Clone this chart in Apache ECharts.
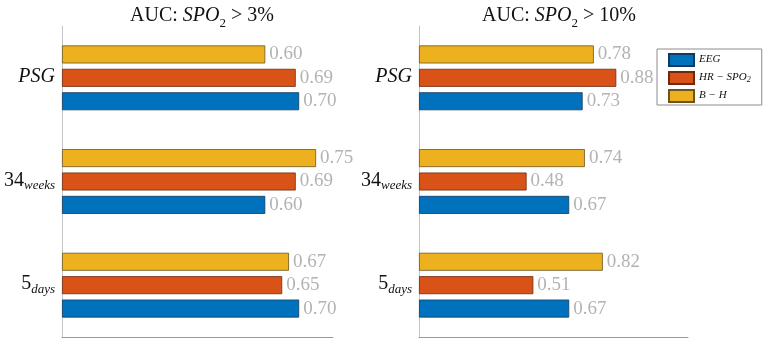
<!DOCTYPE html>
<html>
<head>
<meta charset="utf-8">
<script src="https://cdn.jsdelivr.net/npm/echarts@6/dist/echarts.min.js"></script>
<style>
  html, body { margin: 0; padding: 0; background: #fff; }
  #chart { width: 765px; height: 341px; }
</style>
</head>
<body>
<div id="chart"></div>
<script>
// categories listed bottom to top (ECharts category y axis grows upward)
const categories = ['5days', '34weeks', 'PSG'];
const seriesNames = ['EEG', 'HR-SPO2', 'B-H'];

// AUC: SPO2 > 3%
const eeg3 = [0.70, 0.60, 0.70];
const hr3 = [0.65, 0.69, 0.69];
const bh3 = [0.67, 0.75, 0.60];

// AUC: SPO2 > 10%
const eeg10 = [0.67, 0.67, 0.73];
const hr10 = [0.51, 0.48, 0.88];
const bh10 = [0.82, 0.74, 0.78];

const colors = ['#0072BD', '#D95319', '#EDB120'];
const borders = ['#123a5e', '#6e2a0c', '#6a5520'];
const serif = 'Liberation Serif';

const catLabel = {
    'PSG': '{it|PSG}',
    '34weeks': '{n|34}{sub|weeks}',
    '5days': '{n|5}{sub|days}'
};
const legendLabel = {
    'EEG': '{it|EEG}',
    'HR-SPO2': '{it|HR − SPO}{s|2}',
    'B-H': '{it|B − H}'
};

const titleRich = {
    n: { fontFamily: serif, fontSize: 20, fontWeight: 'normal', lineHeight: 24, verticalAlign: 'top', color: '#111' },
    it: { fontFamily: serif, fontSize: 20, fontWeight: 'normal', fontStyle: 'italic', lineHeight: 24, verticalAlign: 'top', color: '#111' },
    sub: { fontFamily: serif, fontSize: 13, fontWeight: 'normal', lineHeight: 14, verticalAlign: 'bottom', color: '#111' }
};

function makeBar(name, data, i, axis) {
    return {
        name: name,
        type: 'bar',
        xAxisIndex: axis,
        yAxisIndex: axis,
        data: data,
        barWidth: 18,
        barGap: '30%',
        itemStyle: { color: colors[i], borderColor: borders[i], borderWidth: 0.8 },
        label: {
            show: true,
            position: 'right',
            distance: 4,
            color: '#b3b3b3',
            fontFamily: serif,
            fontSize: 19,
            formatter: p => p.value.toFixed(2)
        }
    };
}

function yAx(grid) {
    return {
        type: 'category',
        gridIndex: grid,
        data: categories,
        axisTick: { show: false },
        axisLine: { lineStyle: { color: '#c4c4c4', width: 1 } },
        axisLabel: {
            margin: 7,
            formatter: v => catLabel[v],
            rich: {
                n: { fontFamily: serif, fontSize: 20, lineHeight: 22, verticalAlign: 'top', color: '#111' },
                it: { fontFamily: serif, fontSize: 20, fontStyle: 'italic', lineHeight: 22, verticalAlign: 'top', color: '#111' },
                sub: { fontFamily: serif, fontSize: 13, fontStyle: 'italic', lineHeight: 13, verticalAlign: 'bottom', color: '#111' }
            }
        }
    };
}

function xAx(grid, max) {
    return {
        type: 'value',
        gridIndex: grid,
        min: 0,
        max: max,
        axisLine: { show: true, lineStyle: { color: '#9a9a9a', width: 1 } },
        axisTick: { show: false },
        axisLabel: { show: false },
        splitLine: { show: false }
    };
}

const myChart = echarts.init(document.getElementById('chart'));
const option = {
    backgroundColor: '#fff',
    animation: false,
    title: [
        {
            text: '{n|AUC: }{it|SPO}{sub|2}{n| > 3%}',
            left: 197, top: 1, textAlign: 'center',
            textStyle: { fontWeight: 'normal', rich: titleRich }
        },
        {
            text: '{n|AUC: }{it|SPO}{sub|2}{n| > 10%}',
            left: 554, top: 1, textAlign: 'center',
            textStyle: { fontWeight: 'normal', rich: titleRich }
        }
    ],
    legend: {
        data: seriesNames,
        orient: 'vertical',
        left: 657,
        top: 49,
        padding: [4, 11, 2, 11],
        borderColor: '#8c8c8c',
        borderWidth: 1,
        itemWidth: 25,
        itemHeight: 12,
        itemGap: 4,
        icon: 'rect',
        formatter: n => legendLabel[n],
        textStyle: {
            rich: {
                it: { fontFamily: serif, fontSize: 11, fontStyle: 'italic', lineHeight: 12, verticalAlign: 'top', color: '#111' },
                s: { fontFamily: serif, fontSize: 8, fontStyle: 'italic', lineHeight: 8, verticalAlign: 'bottom', color: '#111' }
            }
        }
    },
    grid: [
        { left: 62, right: 432, top: 26, bottom: 4 },
        { left: 419, right: 77, top: 26, bottom: 4 }
    ],
    xAxis: [xAx(0, 0.8), xAx(1, 1.2)],
    yAxis: [yAx(0), yAx(1)],
    // ECharts lays horizontal bar series out top-down, so B-H goes first to sit on top
    series: [
        makeBar(seriesNames[2], bh3, 2, 0),
        makeBar(seriesNames[1], hr3, 1, 0),
        makeBar(seriesNames[0], eeg3, 0, 0),
        makeBar(seriesNames[2], bh10, 2, 1),
        makeBar(seriesNames[1], hr10, 1, 1),
        makeBar(seriesNames[0], eeg10, 0, 1)
    ]
};
myChart.setOption(option);
</script>
</body>
</html>
